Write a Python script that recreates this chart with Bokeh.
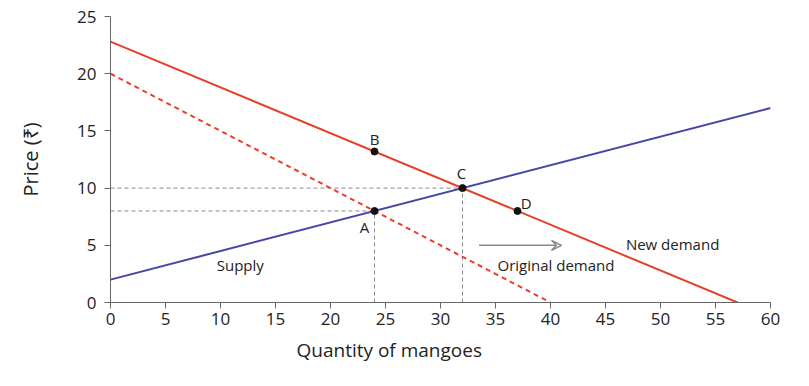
from bokeh.plotting import figure
from bokeh.models import Range1d, FixedTicker, Arrow, VeeHead, Label, Title
from bokeh.embed import file_html
from bokeh.resources import INLINE

# Data
supply_x = [0, 60]
supply_y = [2, 17]
new_demand_x = [0, 57]
new_demand_y = [22.8, 0]
orig_demand_x = [0, 40]
orig_demand_y = [20, 0]
points_name = ["A", "B", "C", "D"]
points_x = [24, 24, 32, 37]
points_y = [8, 13.2, 10, 8]
x_ticks = list(range(0, 61, 5))
y_ticks = list(range(0, 26, 5))

FONT = "Open Sans"
RED = "#e4402b"
BLUE = "#4545a5"
GRAY = "#8a8a8a"

p = figure(width=801, height=378, output_backend="svg", toolbar_location=None,
           x_range=Range1d(0, 60), y_range=Range1d(0, 25),
           min_border_left=110, min_border_right=31, min_border_top=16, min_border_bottom=76)
p.outline_line_color = None
p.xgrid.visible = False
p.ygrid.visible = False

for ax in (p.xaxis, p.yaxis):
    ax.axis_line_color = "#666666"
    ax.major_tick_line_color = "#666666"
    ax.minor_tick_line_color = None
    ax.major_tick_in = 0
    ax.major_tick_out = 6
    ax.major_label_text_font = FONT
    ax.major_label_text_font_size = "17px"
    ax.major_label_text_color = "#222222"
    ax.axis_label_text_font = FONT
    ax.axis_label_text_font_size = "20px"
    ax.axis_label_text_font_style = "normal"
    ax.axis_label_text_color = "#222222"
p.xaxis.ticker = FixedTicker(ticks=x_ticks)
p.yaxis.ticker = FixedTicker(ticks=y_ticks)
p.yaxis.axis_label = "Price (₹)"
p.yaxis.axis_label_standoff = 30
p.xaxis.major_label_standoff = 4
p.yaxis.major_label_standoff = 8

# x axis title, placed as in the reference (left of centre)
p.add_layout(Title(text="Quantity of mangoes", align="left", offset=186, standoff=14,
                   text_font=FONT, text_font_size="19px", text_font_style="normal",
                   text_color="#222222"), "below")

# Guide lines
pa, pc = points_x[0], points_x[2]
ya, yc = points_y[0], points_y[2]
p.line([0, pc], [yc, yc], line_color=GRAY, line_dash="4 3", line_width=1)
p.line([0, pa], [ya, ya], line_color=GRAY, line_dash="4 3", line_width=1)
p.line([pa, pa], [0, ya], line_color=GRAY, line_dash="4 3", line_width=1)
p.line([pc, pc], [0, yc], line_color=GRAY, line_dash="4 3", line_width=1)

p.line(orig_demand_x, orig_demand_y, line_color=RED, line_width=2, line_dash="5 4")
p.line(new_demand_x, new_demand_y, line_color=RED, line_width=2)
p.line(supply_x, supply_y, line_color=BLUE, line_width=2)

p.scatter(points_x, points_y, size=7, color="#111111")

p.add_layout(Arrow(end=VeeHead(size=10, line_color=GRAY, line_width=1.5, fill_color=None),
                   x_start=33.5, y_start=5.0, x_end=41, y_end=5.0,
                   line_color=GRAY, line_width=1.5))

label_offsets = {"A": (-0.9, -1.4), "B": (0, 1.1), "C": (-0.1, 1.3), "D": (0.8, 0.7)}
for n, x, y in zip(points_name, points_x, points_y):
    dx, dy = label_offsets[n]
    p.add_layout(Label(x=x + dx, y=y + dy, text=n, text_font=FONT, text_font_size="15px",
                       text_align="center", text_baseline="middle", text_color="#222222"))

for txt, x, y in [("Supply", 11.8, 3.3), ("Original demand", 40.5, 3.3), ("New demand", 51.1, 5.1)]:
    p.add_layout(Label(x=x, y=y, text=txt, text_font=FONT, text_font_size="15px",
                       text_align="center", text_baseline="middle", text_color="#222222"))

open("out.html", "w").write(file_html(p, INLINE))
